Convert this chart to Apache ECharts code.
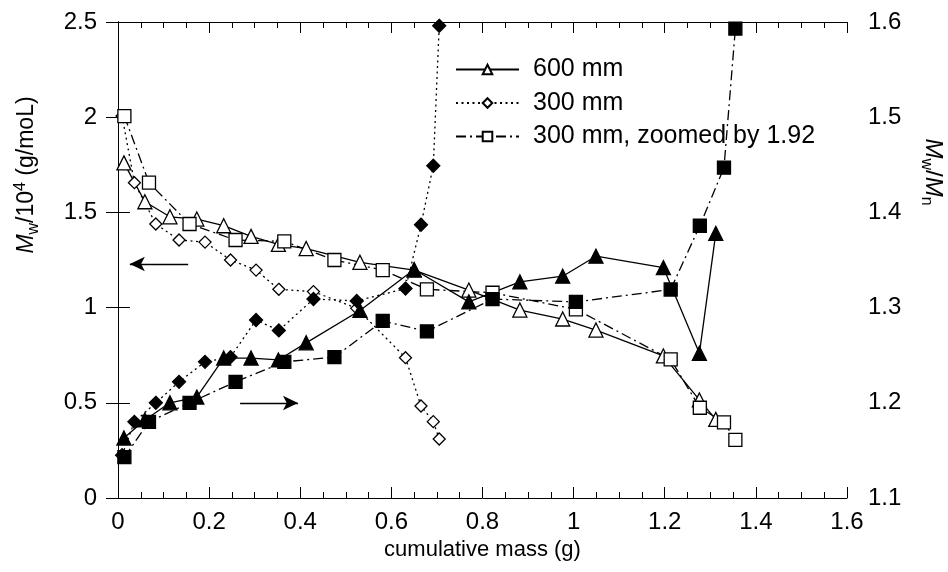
<!DOCTYPE html>
<html>
<head>
<meta charset="utf-8">
<script src="https://cdn.jsdelivr.net/npm/echarts@6/dist/echarts.min.js"></script>
<style>
  html, body { margin: 0; padding: 0; background: #fff; }
  #chart { width: 948px; height: 572px; }
</style>
</head>
<body>
<div id="chart"></div>
<script>
// cumulative mass (g)
var x600 = [0.013, 0.059, 0.114, 0.173, 0.232, 0.292, 0.352, 0.413, 0.531, 0.650, 0.770, 0.882, 0.976, 1.049, 1.197, 1.276, 1.312];
var x300 = [0.009, 0.036, 0.083, 0.134, 0.191, 0.247, 0.303, 0.353, 0.429, 0.524, 0.631, 0.665, 0.692, 0.705];
var xZoom = [0.014, 0.068, 0.157, 0.258, 0.365, 0.475, 0.581, 0.678, 0.822, 1.005, 1.213, 1.277, 1.330, 1.355];

// Mw/10^4 (left axis)
var mw600 = [1.76, 1.556, 1.477, 1.465, 1.43, 1.374, 1.332, 1.31, 1.238, 1.197, 1.092, 0.987, 0.94, 0.882, 0.746, 0.515, 0.413];
var mw300 = [2.006, 1.656, 1.439, 1.355, 1.344, 1.25, 1.197, 1.096, 1.084, 0.996, 0.737, 0.483, 0.401, 0.31];
var mwZoom = [2.006, 1.656, 1.439, 1.355, 1.348, 1.25, 1.197, 1.096, 1.078, 0.991, 0.728, 0.474, 0.397, 0.305];

// Mw/Mn (right axis)
var pd600 = [1.163, 1.182, 1.2, 1.206, 1.247, 1.247, 1.245, 1.263, 1.297, 1.34, 1.306, 1.327, 1.333, 1.354, 1.342, 1.252, 1.378];
var pd300 = [1.145, 1.18, 1.2, 1.222, 1.243, 1.248, 1.287, 1.276, 1.309, 1.307, 1.32, 1.387, 1.449, 1.596];
var pdZoom = [1.143, 1.18, 1.2, 1.222, 1.243, 1.248, 1.286, 1.275, 1.309, 1.306, 1.319, 1.386, 1.447, 1.593];

var legendNames = ['600 mm', '300 mm', '300 mm, zoomed by 1.92'];

// arrows (data coords on left axis): [xFrom, xTo, y]
var arrowLeft = [0.154, 0.026, 1.229];
var arrowRight = [0.268, 0.395, 0.499];

var FONT = 'Liberation Sans, Arial, sans-serif';

function pairs(xs, ys) {
    return xs.map(function (x, i) { return [x, ys[i]]; });
}

var dotted = [2, 3.5];
var dashDot = [10, 4, 2, 4];

function mkSeries(name, xs, ys, axis, symbol, size, filled, dash) {
    return {
        name: name,
        type: 'line',
        yAxisIndex: axis,
        data: pairs(xs, ys),
        symbol: symbol,
        symbolSize: size,
        showSymbol: true,
        showAllSymbol: true,
        clip: false,
        itemStyle: {
            color: filled ? '#000' : '#fff',
            borderColor: '#000',
            borderWidth: 1.3
        },
        lineStyle: { color: '#000', width: 1.3, type: dash },
        emphasis: { disabled: true }
    };
}

var s600 = mkSeries(legendNames[0], x600, mw600, 0, 'triangle', 14, false, 'solid');
s600.markLine = {
    silent: true,
    symbol: ['none', 'arrow'],
    symbolSize: [11, 15],
    label: { show: false },
    lineStyle: { color: '#000', width: 1.3, type: 'solid' },
    data: [
        [{ coord: [arrowLeft[0], arrowLeft[2]] }, { coord: [arrowLeft[1], arrowLeft[2]] }],
        [{ coord: [arrowRight[0], arrowRight[2]] }, { coord: [arrowRight[1], arrowRight[2]] }]
    ]
};

var series = [
    s600,
    mkSeries(legendNames[1], x300, mw300, 0, 'diamond', 12, false, dotted),
    mkSeries(legendNames[2], xZoom, mwZoom, 0, 'rect', 13, false, dashDot),
    mkSeries('pd 600', x600, pd600, 1, 'triangle', 14, true, 'solid'),
    mkSeries('pd 300', x300, pd300, 1, 'diamond', 13, true, dotted),
    mkSeries('pd zoom', xZoom, pdZoom, 1, 'rect', 13, true, dashDot)
];

var axisLine = { show: true, lineStyle: { color: '#000', width: 1 } };

var myChart = echarts.init(document.getElementById('chart'), null, { renderer: 'canvas' });

var option = {
    animation: false,
    backgroundColor: '#fff',
    textStyle: { fontFamily: FONT, color: '#000' },
    grid: { left: 118, right: 101, top: 22, bottom: 74, containLabel: false, outerBoundsMode: 'none' },
    legend: {
        data: legendNames,
        orient: 'vertical',
        left: 455,
        top: 57,
        padding: 0,
        itemWidth: 63,
        itemHeight: 12,
        itemGap: 8.5,
        selectedMode: false,
        textStyle: { fontFamily: FONT, fontSize: 25, color: '#000', padding: [0, 0, 0, 9] }
    },
    xAxis: [{
        type: 'value',
        position: 'bottom',
        min: 0, max: 1.6, interval: 0.2,
        axisLine: axisLine,
        axisTick: { show: true, inside: true, length: 11, lineStyle: { color: '#000' } },
        minorTick: { show: true, splitNumber: 4, length: 6, lineStyle: { color: '#000' } },
        splitLine: { show: false },
        axisLabel: { fontSize: 24, margin: 12, color: '#000', fontFamily: FONT },
        name: 'cumulative mass (g)',
        nameLocation: 'middle',
        nameGap: 40,
        nameTextStyle: { fontSize: 22, color: '#000', fontFamily: FONT }
    }, {
        type: 'value',
        position: 'top',
        min: 0, max: 1.6, interval: 0.2,
        axisLine: axisLine,
        axisTick: { show: true, inside: true, length: 11, lineStyle: { color: '#000' } },
        minorTick: { show: true, splitNumber: 4, length: 6, lineStyle: { color: '#000' } },
        splitLine: { show: false },
        axisLabel: { show: false }
    }],
    yAxis: [{
        type: 'value',
        position: 'left',
        min: 0, max: 2.5, interval: 0.5,
        axisLine: axisLine,
        axisTick: { show: true, inside: true, length: 12, lineStyle: { color: '#000' } },
        splitLine: { show: false },
        axisLabel: { fontSize: 24, margin: 21, color: '#000', fontFamily: FONT }
    }, {
        type: 'value',
        position: 'right',
        min: 1.1, max: 1.6, interval: 0.1,
        axisLine: axisLine,
        axisTick: { show: true, inside: true, length: 12, lineStyle: { color: '#000' } },
        splitLine: { show: false },
        axisLabel: {
            fontSize: 24, margin: 21, color: '#000', fontFamily: FONT,
            formatter: function (v) { return v.toFixed(1); }
        }
    }],
    graphic: [{
        type: 'text',
        x: 27, y: 175,
        rotation: Math.PI / 2,
        style: {
            text: '{i|M}{sub|w}/10{sup|4} (g/moL)',
            fontFamily: FONT, fontSize: 23, fill: '#000',
            align: 'center', verticalAlign: 'middle',
            rich: {
                i: { fontStyle: 'italic', fontSize: 23, fontFamily: FONT },
                sub: { fontSize: 16, fontFamily: FONT, padding: [13, 0, 0, 0] },
                sup: { fontSize: 16, fontFamily: FONT, padding: [0, 0, 13, 0] }
            }
        }
    }, {
        type: 'text',
        x: 933, y: 172,
        rotation: -Math.PI / 2,
        style: {
            text: '{i|M}{sub|w}/{i|M}{sub|n}',
            fontFamily: FONT, fontSize: 24, fill: '#000',
            align: 'center', verticalAlign: 'middle',
            rich: {
                i: { fontStyle: 'italic', fontSize: 24, fontFamily: FONT },
                sub: { fontSize: 16, fontFamily: FONT, padding: [13, 0, 0, 0] }
            }
        }
    }],
    series: series
};

if (option && typeof option === 'object') {
    myChart.setOption(option);
}
</script>
</body>
</html>
